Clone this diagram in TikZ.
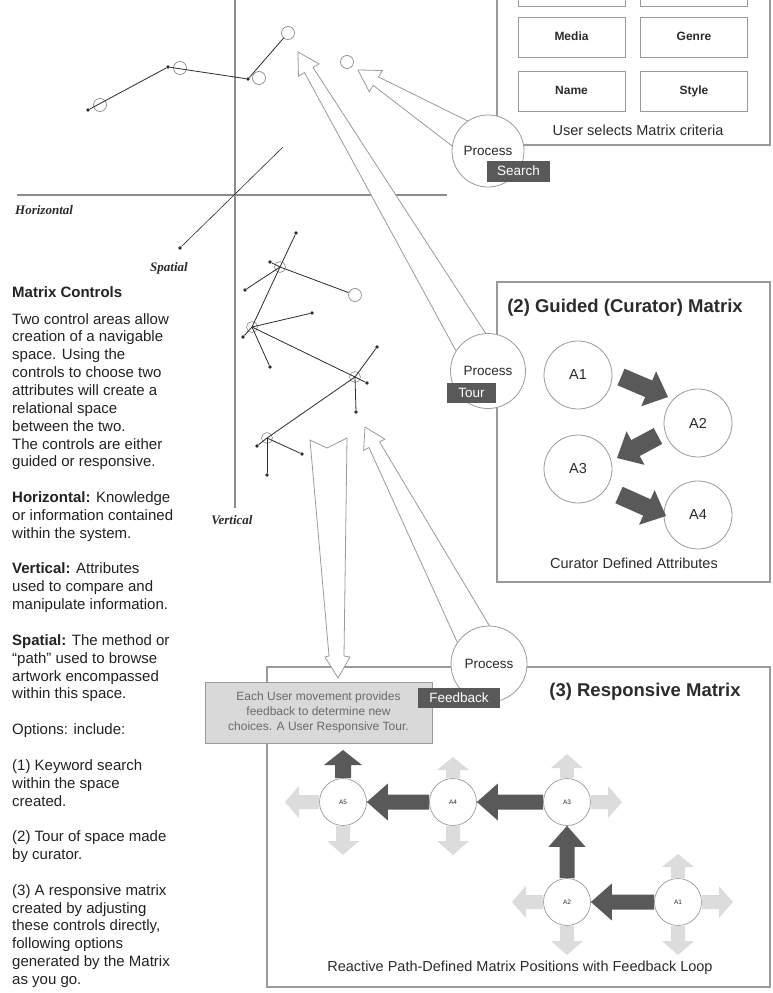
\documentclass[tikz,border=0pt]{standalone}
\usepackage{fontspec}
\setmainfont{Liberation Sans}
\newfontfamily\serifit{Liberation Serif}
\usetikzlibrary{calc}
\definecolor{axisgray}{HTML}{8C8C8C}
\definecolor{boxgray}{HTML}{9A9A9A}
\definecolor{darkfill}{HTML}{595959}
\definecolor{lightarrow}{HTML}{DCDCDC}
\definecolor{notegray}{HTML}{D9D9D9}
\definecolor{inkdark}{HTML}{2B2B2B}
\definecolor{notetext}{HTML}{6A6A6A}
\definecolor{bodytext}{HTML}{222222}
% #1 style, #2 from, #3 tip, #4 base half width, #5 neck half width, #6 head half width, #7 head length
\newcommand{\blockarrow}[7]{%
  \coordinate (bkH) at ($(#3)!#7!(#2)$);
  \path[#1] ($(#2)!#4!90:(#3)$) -- ($(bkH)!#5!90:(#3)$) -- ($(bkH)!#6!90:(#3)$) -- (#3)
    -- ($(bkH)!#6!-90:(#3)$) -- ($(bkH)!#5!-90:(#3)$) -- ($(#2)!#4!-90:(#3)$) -- cycle;
}
\tikzset{
  axis/.style={draw=axisgray, line width=2.4pt},
  axislabel/.style={font=\serifit\bfseries\itshape\fontsize{13}{14}\selectfont, text=inkdark, inner sep=0pt},
  netline/.style={draw=inkdark, line width=0.8pt},
  netdot/.style={circle, fill=inkdark, inner sep=0pt, minimum size=3.8pt},
  ptc/.style={circle, draw=axisgray, line width=0.7pt, inner sep=0pt, minimum size=13pt},
  smallc/.style={circle, draw=axisgray, line width=0.6pt, inner sep=0pt, minimum size=11pt},
  frame/.style={draw=boxgray, line width=1.1pt},
  critbox/.style={draw=boxgray, line width=1pt, minimum width=107pt, minimum height=40pt, inner sep=0pt, text height=9pt, text depth=2.5pt, font=\bfseries\fontsize{12}{13}\selectfont, text=inkdark},
  proc/.style={circle, draw=boxgray, fill=white, line width=0.8pt, minimum size=72pt, inner sep=0pt, font=\fontsize{13.5}{14}\selectfont, text=inkdark},
  tag/.style={fill=darkfill, text=white, inner sep=0pt, font=\fontsize{13.5}{14}\selectfont},
  hollow/.style={draw=boxgray, fill=white, line width=0.8pt, line join=miter},
  attr/.style={circle, draw=boxgray, fill=white, line width=0.8pt, minimum size=68pt, inner sep=0pt, font=\fontsize{14.5}{15}\selectfont, text=inkdark},
  ratt/.style={circle, draw=boxgray, fill=white, line width=0.7pt, minimum size=47pt, inner sep=0pt, font=\fontsize{6.5}{7}\selectfont, text=inkdark},
  darkarr/.style={fill=darkfill},
  lightarr/.style={fill=lightarrow},
  title/.style={font=\bfseries\fontsize{18.5}{20}\selectfont, text=inkdark, inner sep=0pt},
  caption/.style={font=\fontsize{14.5}{16}\selectfont, text=inkdark, inner sep=0pt},
  body/.style={font=\fontsize{15}{17.85}\selectfont, text=bodytext, inner sep=0pt, align=left, anchor=north west},
}
\begin{document}
\begin{tikzpicture}[x=1pt,y=-1pt]
\useasboundingbox (0,0) rectangle (772,993);
\clip (0,0) rectangle (772,993);

% ---------- axes ----------
\coordinate (vtop) at (235,-2);
\coordinate (vbot) at (235,508);
\coordinate (hleft) at (17,195);
\coordinate (hright) at (447,195);
\draw[axis, line width=2pt] (vtop) -- (vbot);
\draw[axis] (hleft) -- (hright);
\node[axislabel, anchor=west] (lh) at (15,210) {Horizontal};
\node[axislabel] (ls) at (169,268) {Spatial};
\node[axislabel] (lv) at (232,520) {Vertical};

% spatial axis
\coordinate (sA) at (283,147);
\node[netdot] (sB) at (180,248) {};
\draw[netline, line width=0.6pt] (sA) -- (sB);

% ---------- top-left path ----------
\node[ptc] (p1) at (100,105) {};
\node[ptc] (p2) at (180,68) {};
\node[ptc] (p3) at (259,78) {};
\node[ptc] (p4) at (288,33) {};
\node[ptc] (p5) at (347,62) {};
\node[netdot] (d1) at (88,110) {};
\node[netdot] (d2) at (168,67) {};
\node[netdot] (d3) at (248,79) {};
\draw[netline] (d1) -- (d2);
\draw[netline] (d2) -- (d3);
\draw[netline] (d3) -- (p4);

% ---------- middle network ----------
\node[smallc] (n1) at (280,267) {};
\node[smallc] (n2) at (252,327) {};
\node[smallc] (n3) at (355,377) {};
\node[smallc] (n4) at (267,438) {};
\node[ptc] (cc) at (355,295) {};
\node[netdot] (t0) at (296,233) {};
\node[netdot] (e1a) at (270,262) {};
\node[netdot] (e1b) at (245,290) {};
\node[netdot] (e2a) at (312,313) {};
\node[netdot] (e2b) at (243,337) {};
\node[netdot] (e2c) at (270,367) {};
\node[netdot] (e3a) at (377,347) {};
\node[netdot] (e3b) at (367,383) {};
\node[netdot] (e3c) at (356,412) {};
\node[netdot] (e4a) at (257,446) {};
\node[netdot] (e4b) at (302,454) {};
\node[netdot] (e4c) at (267,475) {};
\draw[netline] (t0) -- (n1.center) -- (n2.center) -- (n3.center) -- (n4.center);
\draw[netline] (n1.center) -- (e1a);
\draw[netline] (n1.center) -- (e1b);
\draw[netline] (n1.center) -- (cc);
\draw[netline] (n2.center) -- (e2a);
\draw[netline] (n2.center) -- (e2b);
\draw[netline] (n2.center) -- (e2c);
\draw[netline] (n3.center) -- (e3a);
\draw[netline] (n3.center) -- (e3b);
\draw[netline] (n3.center) -- (e3c);
\draw[netline] (n4.center) -- (e4a);
\draw[netline] (n4.center) -- (e4b);
\draw[netline] (n4.center) -- (e4c);

% ---------- frames ----------
\draw[frame] (497,-10) rectangle (770,145);
\draw[frame] (497,282) rectangle (770,582);
\draw[frame] (267,667) rectangle (770,987);

% search criteria
\node[critbox] (cr1) at (571.5,-14) {};
\node[critbox] (cr2) at (694,-14) {};
\node[critbox] (cMedia) at (571.5,37) {Media};
\node[critbox] (cGenre) at (694,37) {Genre};
\node[critbox] (cName) at (571.5,91) {Name};
\node[critbox] (cStyle) at (694,91) {Style};
\node[caption] (capS) at (638,130) {User selects Matrix criteria};

% ---------- hollow arrows ----------
\coordinate (cS) at (488,151);
\coordinate (cT) at (488,371);
\coordinate (cF) at (489,664);
\coordinate (tS) at (358,70);
\coordinate (tT) at (298,52);
\coordinate (tF) at (365,427);
\blockarrow{hollow}{cS}{tS}{18pt}{5pt}{12.5pt}{21pt}
\blockarrow{hollow}{cT}{tT}{18.5pt}{5pt}{12pt}{21pt}
\blockarrow{hollow}{cF}{tF}{20pt}{6pt}{12pt}{20pt}
\draw[hollow] (310,440) -- (327,448) -- (347,438) -- (344,656) -- (350,657) -- (338,678) -- (325,657) -- (329,656) -- cycle;

% process circles and tags
\node[proc] (pS) at (cS) {Process};
\node[proc, minimum size=75pt] (pT) at (cT) {Process};
\node[proc, minimum size=76pt] (pF) at (cF) {Process};
\node[tag, minimum width=63pt, minimum height=21pt] (tagS) at (518.5,171) {Search};
\node[tag, minimum width=49pt, minimum height=20pt] (tagT) at (471.5,393) {Tour};

% ---------- (2) guided matrix ----------
\node[title] (gtitle) at (625,308) {(2) Guided (Curator) Matrix};
\node[attr] (gA1) at (578,375) {A1};
\node[attr] (gA2) at (698,423) {A2};
\node[attr] (gA3) at (578,469) {A3};
\node[attr] (gA4) at (698,515) {A4};
\coordinate (g1s) at (621,377);
\coordinate (g1t) at (668,397);
\coordinate (g2s) at (658,436);
\coordinate (g2t) at (617,458);
\coordinate (g3s) at (619,495);
\coordinate (g3t) at (666,516);
\blockarrow{darkarr}{g1s}{g1t}{9pt}{9pt}{19pt}{21pt}
\blockarrow{darkarr}{g2s}{g2t}{9pt}{9pt}{19pt}{21pt}
\blockarrow{darkarr}{g3s}{g3t}{9pt}{9pt}{19pt}{21pt}
\node[caption] (capG) at (634,563) {Curator Defined Attributes};

% ---------- (3) responsive matrix ----------
\node[title] (rtitle) at (645,692) {(3) Responsive Matrix};
\node[draw=boxgray, fill=notegray, line width=0.9pt, minimum width=227pt, minimum height=61pt, inner sep=0pt, align=center,
      font=\fontsize{12}{15}\selectfont, text=notetext] (note) at (318.5,712.5)
      {Each User movement provides\\feedback to determine new\\choices.  A User Responsive Tour.};
\node[tag, minimum width=82pt, minimum height=20pt] (tagF) at (459,698) {Feedback};

\node[ratt] (rA5) at (343,802) {A5};
\node[ratt] (rA4) at (453,802) {A4};
\node[ratt] (rA3) at (567,802) {A3};
\node[ratt] (rA2) at (567,902) {A2};
\node[ratt] (rA1) at (678,902) {A1};

\coordinate (l5w) at (285,802);
\coordinate (l5s) at (343,855);
\coordinate (l4n) at (453,757);
\coordinate (l4s) at (453,855);
\coordinate (l3n) at (567,754);
\coordinate (l3e) at (622,802);
\coordinate (l2w) at (512,902);
\coordinate (l2s) at (567,955);
\coordinate (l1n) at (678,854);
\coordinate (l1e) at (733,902);
\coordinate (l1s) at (678,955);
\coordinate (d5n) at (343,750);

\blockarrow{lightarr}{rA5.west}{l5w}{7pt}{7pt}{16pt}{14pt}
\blockarrow{lightarr}{rA5.south}{l5s}{7pt}{7pt}{16pt}{14pt}
\blockarrow{lightarr}{rA4.north}{l4n}{7pt}{7pt}{16pt}{13pt}
\blockarrow{lightarr}{rA4.south}{l4s}{7pt}{7pt}{16pt}{14pt}
\blockarrow{lightarr}{rA3.north}{l3n}{7pt}{7pt}{16pt}{14pt}
\blockarrow{lightarr}{rA3.east}{l3e}{7pt}{7pt}{16pt}{14pt}
\blockarrow{lightarr}{rA2.west}{l2w}{7pt}{7pt}{16pt}{14pt}
\blockarrow{lightarr}{rA2.south}{l2s}{7pt}{7pt}{16pt}{14pt}
\blockarrow{lightarr}{rA1.north}{l1n}{7pt}{7pt}{16pt}{13pt}
\blockarrow{lightarr}{rA1.east}{l1e}{7pt}{7pt}{16pt}{14pt}
\blockarrow{lightarr}{rA1.south}{l1s}{7pt}{7pt}{16pt}{14pt}

\blockarrow{darkarr}{rA5.north}{d5n}{8pt}{8pt}{19pt}{15pt}
\blockarrow{darkarr}{rA4.west}{rA5.east}{7.5pt}{7.5pt}{18.5pt}{21pt}
\blockarrow{darkarr}{rA3.west}{rA4.east}{7.5pt}{7.5pt}{18.5pt}{21pt}
\blockarrow{darkarr}{rA2.north}{rA3.south}{7.5pt}{7.5pt}{18.5pt}{21pt}
\blockarrow{darkarr}{rA1.west}{rA2.east}{7.5pt}{7.5pt}{18.5pt}{21pt}

\node[caption] (capR) at (520,968) {Reactive Path-Defined Matrix Positions with Feedback Loop};

% ---------- left text ----------
\node[body, font=\bfseries\fontsize{15}{17.85}\selectfont] (mc) at (12,286) {Matrix Controls};
\node[body] (txt) at (12,313) {Two control areas allow\\
creation of a navigable\\
space. Using the\\
controls to choose two\\
attributes will create a\\
relational space\\
between the two.\\
The controls are either\\
guided or responsive.\\[17.85pt]
\textbf{Horizontal:} Knowledge\\
or information contained\\
within the system.\\[17.85pt]
\textbf{Vertical:} Attributes\\
used to compare and\\
manipulate information.\\[17.85pt]
\textbf{Spatial:} The method or\\
``path'' used to browse\\
artwork encompassed\\
within this space.\\[17.85pt]
Options:  include:\\[17.85pt]
(1) Keyword search\\
within the space\\
created.\\[17.85pt]
(2) Tour of space made\\
by curator.\\[17.85pt]
(3) A responsive matrix\\
created by adjusting\\
these controls directly,\\
following options\\
generated by the Matrix\\
as you go.};
\end{tikzpicture}
\end{document}
